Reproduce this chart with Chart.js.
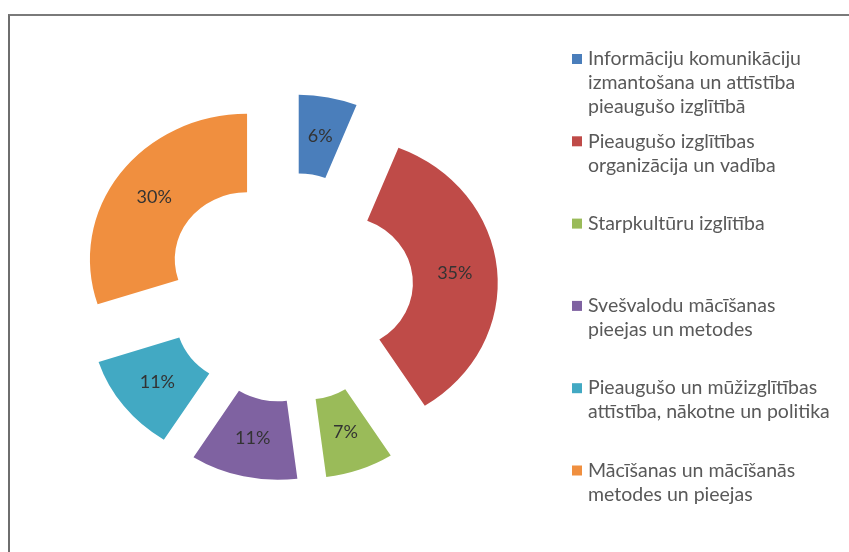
<!DOCTYPE html>
<html>
<head>
<meta charset="utf-8">
<script src="https://cdn.jsdelivr.net/npm/chart.js@4/dist/chart.umd.min.js"></script>
<style>
  html, body { margin: 0; padding: 0; background: #fff; }
  #wrap { position: relative; width: 849px; height: 552px; overflow: hidden; }
  #frame { position: absolute; left: 8px; top: 14px; right: 0; bottom: 0;
           border-left: 2px solid #6e6e6e; border-top: 2px solid #7a7a7a; }
  #myPie { position: absolute; left: 0; top: 0; }
</style>
</head>
<body>
<div id="wrap">
  <div id="frame"></div>
  <canvas id="myPie" width="849" height="552"></canvas>
</div>
<script>
// dati
var labels = [
    ['Informāciju komunikāciju', 'izmantošana un attīstība', 'pieaugušo izglītībā'],
    ['Pieaugušo izglītības', 'organizācija un vadība'],
    ['Starpkultūru izglītība'],
    ['Svešvalodu mācīšanas', 'pieejas un metodes'],
    ['Pieaugušo un mūžizglītības', 'attīstība, nākotne un politika'],
    ['Mācīšanas un mācīšanās', 'metodes un pieejas']
];
var values = [6, 35, 7, 11, 11, 30];
var colors = ['#4A7EBB', '#BF4B48', '#9ABB59', '#7F62A1', '#42A9C3', '#F08F3F'];

var EXPLODE = 48;     // cik tālu gabali atvirzīti
var STRETCH = 1.08;   // oriģināls ir nedaudz izstiepts platumā

// zīmējam gabalus paši, katru ar savu nobīdi (chart.js offset maina arī rādiusu)
var explodeAndLabels = {
    id: 'explodeAndLabels',
    beforeDatasetsDraw: function (chart) {
        var ctx = chart.ctx;
        var meta = chart.getDatasetMeta(0);
        var ds = chart.data.datasets[0];
        meta.data.forEach(function (arc) {
            var mid = (arc.startAngle + arc.endAngle) / 2;
            ctx.save();
            ctx.translate(arc.x + Math.cos(mid) * EXPLODE * STRETCH, Math.sin(mid) * EXPLODE);
            ctx.scale(STRETCH, 1);
            ctx.translate(-arc.x, 0);
            arc.draw(ctx);
            ctx.restore();
        });

        ctx.save();
        ctx.font = '18px Lato';
        ctx.fillStyle = '#333333';
        ctx.textAlign = 'center';
        ctx.textBaseline = 'middle';
        meta.data.forEach(function (arc, i) {
            var mid = (arc.startAngle + arc.endAngle) / 2;
            var r = (arc.innerRadius + arc.outerRadius) / 2 + EXPLODE;
            ctx.fillText(ds.data[i] + '%', arc.x + Math.cos(mid) * r * STRETCH, arc.y + Math.sin(mid) * r);
        });
        ctx.restore();
        return false;
    }
};

// legenda labajā pusē
var sideLegend = {
    id: 'sideLegend',
    afterDraw: function (chart) {
        var ctx = chart.ctx;
        var ds = chart.data.datasets[0];
        ctx.save();
        ctx.font = '19.5px Lato';
        ctx.textBaseline = 'middle';
        chart.data.labels.forEach(function (lines, i) {
            var y = 59 + i * 82.3;
            ctx.fillStyle = ds.backgroundColor[i];
            ctx.fillRect(572, y - 5, 10, 10);
            ctx.fillStyle = '#595959';
            lines.forEach(function (t, j) {
                ctx.fillText(t, 588, y + j * 24);
            });
        });
        ctx.restore();
    }
};

var ctx = document.getElementById('myPie').getContext('2d');
var myChart = new Chart(ctx, {
    type: 'doughnut',
    data: {
        labels: labels,
        datasets: [{
            data: values,
            backgroundColor: colors,
            borderWidth: 0,
            radius: 145.5,
            cutout: '46%'
        }]
    },
    options: {
        responsive: false,
        animation: false,
        layout: { padding: { left: 0, right: 271, top: 23, bottom: 0 } },
        plugins: {
            legend: { display: false },
            tooltip: { enabled: false }
        }
    },
    plugins: [explodeAndLabels, sideLegend]
});
</script>
</body>
</html>
